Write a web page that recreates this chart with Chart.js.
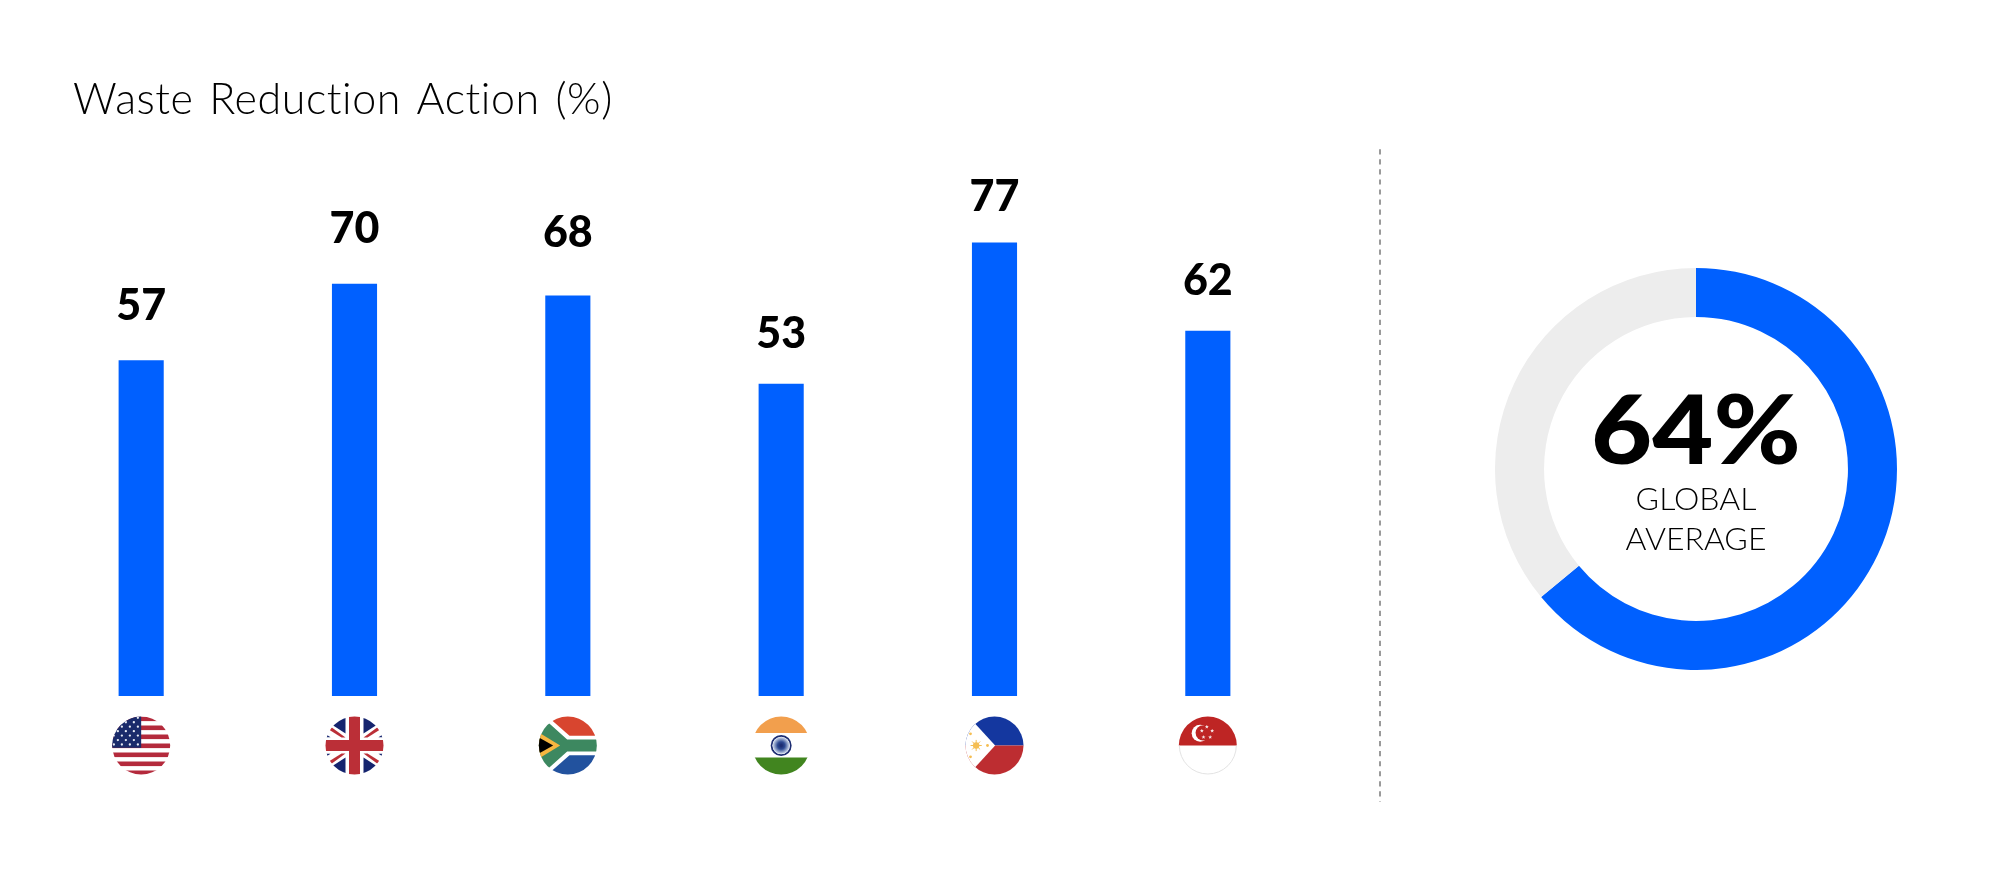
<!DOCTYPE html>
<html>
<head>
<meta charset="utf-8">
<script src="https://cdn.jsdelivr.net/npm/chart.js@4/dist/chart.umd.min.js"></script>
<style>
html,body{margin:0;padding:0;background:#fff;width:2000px;height:869px;overflow:hidden}
canvas{position:absolute;display:block}
#bars{left:0;top:0}
#ring{left:1495px;top:268px}
</style>
</head>
<body>
<canvas id="bars" width="1400" height="869"></canvas>
<canvas id="ring" width="402" height="402"></canvas>
<script>
const chartTitle = "Waste Reduction Action (%)";
const categories = ["USA","UK","South Africa","India","Philippines","Singapore"];
const barValues = [57,70,68,53,77,62];
const donutLabels = ["Taking action","Remainder"];
const donutValues = [64,36];
const centerValue = "64%";
const centerLines = ["GLOBAL","AVERAGE"];
const labelGaps = [40,41,48,36,31,36];
const BLUE = "#0060FF", GREY = "#EDEDED";
const LIGHT = '"Lato"', FLAG_R = 29;

function poly(c, pts, cx, cy, col){
  c.fillStyle = col; c.beginPath();
  pts.forEach((p,i)=>{ const x=(p[0]-cx)/3, y=(p[1]-cy)/3; i?c.lineTo(x,y):c.moveTo(x,y); });
  c.closePath(); c.fill();
}
function star(c,x,y,r,col){
  c.fillStyle=col; c.beginPath();
  for(let i=0;i<10;i++){
    const a=-Math.PI/2+i*Math.PI/5, q=i%2?r*0.42:r;
    c[i?'lineTo':'moveTo'](x+Math.cos(a)*q,y+Math.sin(a)*q);
  }
  c.closePath(); c.fill();
}
const flags = {
  "USA"(c){
    c.fillStyle="#fff"; c.fillRect(-30,-30,60,60);
    c.fillStyle="#B42A3C";
    for(let k=0;k<7;k++) c.fillRect(-30,-29+9*k,60,4.6);
    c.fillStyle="#1A2B6B"; c.fillRect(-30,-30,30,32.3);
    c.fillStyle="#E8ECF5";
    for(let r=0;r<7;r++){
      const xs = r%2 ? [-23.3,-15.3,-7.3] : [-27.3,-19.3,-11.3,-3.3];
      xs.forEach(x=>{ c.beginPath(); c.arc(x,-27.7+r*4.45,1.15,0,7); c.fill(); });
    }
  },
  "UK"(c){
    const cx=118, cy=121;
    c.fillStyle="#fff"; c.fillRect(-30,-30,60,60);
    const navy="#15246E", red="#BB2F37";
    [1,-1].forEach(sx=>[1,-1].forEach(sy=>{
      c.save(); c.scale(sx,sy);
      poly(c,[[145,10],[145,85],[190,56],[190,10]],cx,cy,navy);
      poly(c,[[190,96],[212,82],[212,96]],cx,cy,navy);
      poly(c,[[145,97],[187,66],[194,74],[157,97]],cx,cy,red);
      c.restore();
    }));
    c.fillStyle=red; c.fillRect(-5.5,-30,11,60); c.fillRect(-30,-5.5,60,11);
  },
  "South Africa"(c){
    const cx=120, cy=122;
    c.fillStyle="#fff"; c.fillRect(-30,-30,60,60);
    poly(c,[[72,46],[125,93],[212,93],[212,20],[72,20]],cx,cy,"#D8452F");
    poly(c,[[72,198],[125,151],[212,151],[212,224],[72,224]],cx,cy,"#22529E");
    poly(c,[[62,54],[118,104],[212,104],[212,140],[118,140],[62,190],[25,190],[25,54]],cx,cy,"#3D8860");
    poly(c,[[25,78],[97,122],[25,166]],cx,cy,"#F6B640");
    poly(c,[[25,93],[76,122],[25,151]],cx,cy,"#000");
  },
  "India"(c){
    c.fillStyle="#fff"; c.fillRect(-30,-30,60,60);
    c.fillStyle="#F29F4D"; c.fillRect(-30,-30,60,17.5);
    c.fillStyle="#41851F"; c.fillRect(-30,12,60,18);
    c.fillStyle="#fff"; c.beginPath(); c.arc(0,0,9,0,7); c.fill();
    c.strokeStyle="#1D2D72"; c.lineWidth=1.8; c.beginPath(); c.arc(0,0,9.6,0,7); c.stroke();
    const g=c.createRadialGradient(0,0,1,0,0,8.6);
    g.addColorStop(0,"#1D2D72"); g.addColorStop(.35,"#2E4A93"); g.addColorStop(1,"#D9E2F1");
    c.fillStyle=g; c.beginPath(); c.arc(0,0,8.6,0,7); c.fill();
  },
  "Philippines"(c){
    const cx=120, cy=121;
    c.fillStyle="#fff"; c.fillRect(-30,-30,60,60);
    c.fillStyle="#14379F"; c.fillRect(-30,-30,60,30);
    c.fillStyle="#BD2D31"; c.fillRect(-30,0,60,30);
    poly(c,[[10,-1],[122,121],[10,243]],cx,cy,"#fff");
    const sol="#F5BE52", sx=(65-cx)/3;
    c.strokeStyle=sol; c.lineWidth=1;
    for(let i=0;i<8;i++){
      const a=i*Math.PI/4;
      c.beginPath(); c.moveTo(sx,0); c.lineTo(sx+Math.cos(a)*5.6,Math.sin(a)*5.6); c.stroke();
    }
    c.fillStyle=sol; c.beginPath(); c.arc(sx,0,3.2,0,7); c.fill();
    [[48,86],[48,155],[99,121]].forEach(p=>{
      c.beginPath(); c.arc((p[0]-cx)/3,(p[1]-cy)/3,1.4,0,7); c.fill();
    });
  },
  "Singapore"(c){
    const cx=120, cy=122;
    c.fillStyle="#fff"; c.fillRect(-30,-30,60,60);
    c.fillStyle="#BE2524"; c.fillRect(-30,-30,60,30);
    c.fillStyle="#fff"; c.beginPath(); c.arc((97-cx)/3,(85-cy)/3,8.5,0,7); c.fill();
    c.fillStyle="#BE2524"; c.beginPath(); c.arc((106-cx)/3,(84-cy)/3,7.6,0,7); c.fill();
    [[117,66],[133,78],[127,97],[107,97],[102,78]].forEach(p=>star(c,(p[0]-cx)/3,(p[1]-cy)/3,2.1,"#F3E4E4"));
  }
};

const barDecor = {
  id:"barDecor",
  afterDatasetsDraw(chart){
    const c=chart.ctx, xs=chart.scales.x, bars=chart.getDatasetMeta(0).data;
    c.save();
    // title
    c.fillStyle="#000"; c.textAlign="left"; c.textBaseline="alphabetic";
    c.font=`300 43px ${LIGHT}`; c.letterSpacing="0.55px"; c.wordSpacing="3.5px";
    c.fillText(chartTitle,73,114);
    c.letterSpacing="0px"; c.wordSpacing="0px";
    // value labels
    c.font=`900 43px ${LIGHT}`; c.textAlign="center";
    bars.forEach((b,i)=>c.fillText(String(barValues[i]),b.x,b.y-labelGaps[i]));
    // flags under the category positions
    categories.forEach((name,i)=>{
      const x=xs.getPixelForValue(i), y=chart.chartArea.bottom+49.5;
      c.save(); c.translate(x,y);
      c.beginPath(); c.arc(0,0,FLAG_R,0,Math.PI*2); c.clip();
      flags[name](c);
      c.restore();
      if(name==="Singapore"){
        c.strokeStyle="#E3E3E3"; c.lineWidth=1;
        c.beginPath(); c.arc(x,y,FLAG_R-.5,0,Math.PI); c.stroke();
      }
    });
    // divider
    c.strokeStyle="#9A9A9A"; c.lineWidth=2; c.setLineDash([5.2,4.83]);
    c.beginPath(); c.moveTo(1380,149.3); c.lineTo(1380,801.7); c.stroke();
    c.restore();
  }
};
new Chart(document.getElementById("bars"),{
  type:"bar",
  data:{labels:categories,datasets:[{data:barValues,backgroundColor:BLUE,borderWidth:0,barPercentage:0.2115,categoryPercentage:1}]},
  options:{
    responsive:false,animation:false,devicePixelRatio:1,
    layout:{padding:{left:34.5,right:85.5,top:107,bottom:173}},
    plugins:{legend:{display:false},tooltip:{enabled:false},title:{display:false}},
    scales:{x:{display:false,grid:{display:false}},y:{display:false,min:0,max:100,grid:{display:false}}}
  },
  plugins:[barDecor]
});

const ringText = {
  id:"ringText",
  afterDatasetsDraw(chart){
    const c=chart.ctx, m=chart.getDatasetMeta(0).data[0];
    c.save(); c.fillStyle="#000"; c.textAlign="center"; c.textBaseline="alphabetic";
    c.save(); c.translate(m.x,m.y-5); c.scale(1.1,1);
    c.font=`900 96px ${LIGHT}`; c.fillText(centerValue,0,0);
    c.restore();
    c.font=`300 32px ${LIGHT}`;
    centerLines.forEach((t,i)=>c.fillText(t,m.x,m.y+41+i*40));
    c.restore();
  }
};
new Chart(document.getElementById("ring"),{
  type:"doughnut",
  data:{labels:donutLabels,datasets:[{data:donutValues,backgroundColor:[BLUE,GREY],borderWidth:0}]},
  options:{
    responsive:false,animation:false,devicePixelRatio:1,cutout:"75.6%",
    plugins:{legend:{display:false},tooltip:{enabled:false}}
  },
  plugins:[ringText]
});
</script>
</body>
</html>
